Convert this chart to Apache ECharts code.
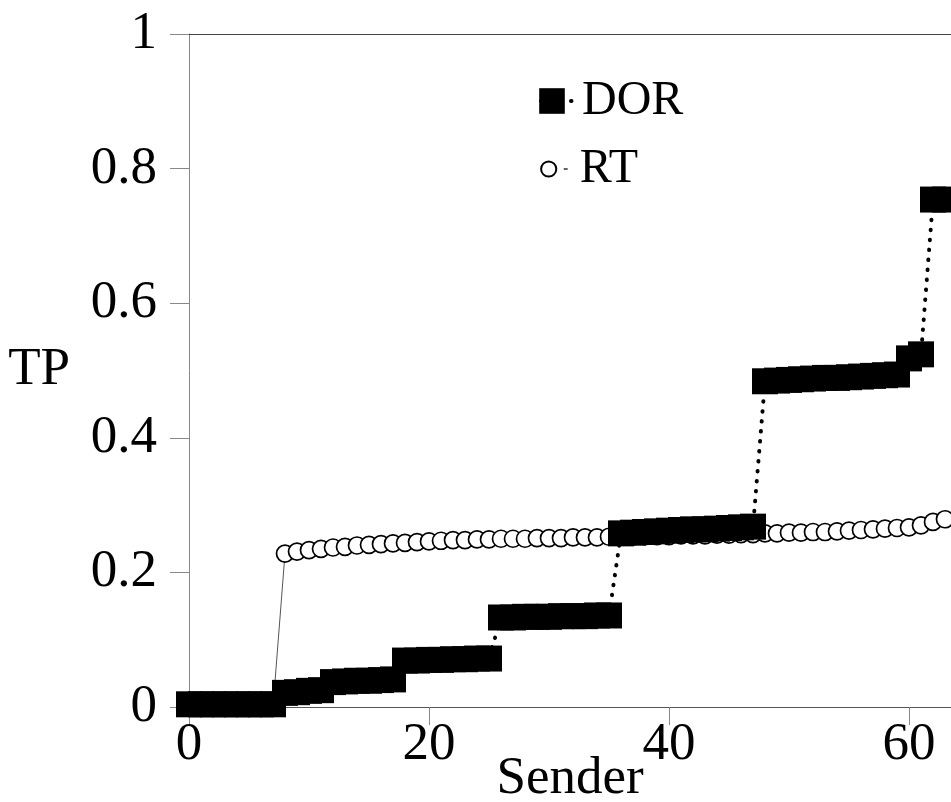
<!DOCTYPE html>
<html>
<head>
<meta charset="utf-8">
<title>TP by sender</title>
<script src="https://cdn.jsdelivr.net/npm/echarts@6/dist/echarts.min.js"></script>
<style>
html,body{margin:0;padding:0;background:#fff;}
#tpChartDiv{width:951px;height:802px;}
</style>
</head>
<body>
<div id="tpChartDiv"></div>
<script>
var senders = [0,1,2,3,4,5,6,7,8,9,10,11,12,13,14,15,16,17,18,19,20,21,22,23,24,25,26,27,28,29,30,31,
	32,33,34,35,36,37,38,39,40,41,42,43,44,45,46,47,48,49,50,51,52,53,54,55,56,57,58,59,60,61,62,63];
var dorTP = [0.004,0.004,0.004,0.004,0.004,0.004,0.004,0.004,
	0.021,0.022,0.024,0.025,
	0.037,0.038,0.039,0.039,0.040,0.041,
	0.069,0.069,0.070,0.070,0.071,0.071,0.072,0.072,
	0.133,0.133,0.134,0.134,0.134,0.135,0.135,0.135,0.136,0.136,
	0.258,0.259,0.260,0.261,0.262,0.263,0.264,0.264,0.265,0.266,0.267,0.268,
	0.484,0.485,0.486,0.487,0.488,0.489,0.489,0.490,0.491,0.492,0.493,0.494,
	0.518,0.524,
	0.754,0.754];
var rtTP = [0,0,0,0,0,0,0,0,
	0.228,0.231,0.233,0.235,0.237,0.238,0.240,0.241,0.242,0.243,0.244,0.245,0.246,0.247,0.248,0.248,
	0.249,0.249,0.250,0.250,0.250,0.251,0.251,0.251,0.252,0.252,0.252,0.253,0.253,0.253,0.254,0.254,
	0.254,0.255,0.255,0.255,0.256,0.256,0.257,0.257,0.258,0.258,0.259,0.259,0.260,0.260,0.261,0.262,
	0.263,0.264,0.265,0.266,0.267,0.270,0.275,0.279];
var xTicks = [0,20,40,60];
var seriesNames = ['DOR','RT'];

var fontName = '"Liberation Serif","DejaVu Serif",serif';

function toPairs(xs, ys){
	var out = [];
	for(var i=0;i<xs.length;i++){
		out.push([xs[i], ys[i]]);
	}
	return out;
}

var tpChart = echarts.init(document.getElementById("tpChartDiv"));
setTPChartOption(tpChart);

function setTPChartOption(chart){
	var option = {
	animation:false,
	backgroundColor:'#fff',
	textStyle:{fontFamily:fontName,color:'#000'},
	grid:{
		left:189,
		right:0,
		top:34,
		bottom:95,
		containLabel:false,
		outerBoundsMode:'none'
	},
	legend:[
		{
			//only one dot of the dotted sample shows, right of the square
			data:[{name:seriesNames[0],lineStyle:{color:'#000',width:4,type:[0.5,9.5],cap:'round',dashOffset:-9}}],
			left:530,
			top:77,
			padding:0,
			itemWidth:40,
			itemHeight:32,
			selectedMode:false,
			textStyle:{fontFamily:fontName,fontSize:48,color:'#000',padding:[0,0,0,5]}
		},
		{
			//line sample only on the right side of the circle
			data:[{name:seriesNames[1],lineStyle:{color:'#333',width:1.4,type:[0,25,14,100]}}],
			left:529,
			top:145,
			padding:0,
			itemWidth:38,
			itemHeight:19,
			selectedMode:false,
			textStyle:{fontFamily:fontName,fontSize:48,color:'#000',padding:[0,0,0,7]}
		}
	],
	xAxis:[
		{
			type:'value',
			position:'bottom',
			min:0,
			max:63.5,
			interval:20,
			name:'Sender',
			nameLocation:'middle',
			nameGap:46,
			nameMoveOverlap:false,
			nameTextStyle:{fontFamily:fontName,fontSize:53,color:'#000'},
			axisLine:{show:true,lineStyle:{color:'#555',width:1}},
			axisTick:{show:true,inside:false,length:18,lineStyle:{color:'#888',width:1}},
			axisLabel:{
				margin:12,
				fontFamily:fontName,
				fontSize:53,
				color:'#000',
				formatter:function(v){
					return xTicks.indexOf(v) >= 0 ? String(v) : '';
				}
			},
			splitLine:{show:false}
		},
		{
			type:'value',
			position:'top',
			min:0,
			max:63.5,
			axisLine:{show:true,lineStyle:{color:'#444',width:1}},
			axisTick:{show:false},
			axisLabel:{show:false},
			splitLine:{show:false}
		}
	],
	yAxis:{
		type:'value',
		min:0,
		max:1,
		interval:0.2,
		name:'TP',
		nameLocation:'middle',
		nameRotate:0,
		nameGap:119,
		nameMoveOverlap:false,
		nameTextStyle:{fontFamily:fontName,fontSize:53,color:'#000'},
		axisLine:{show:true,lineStyle:{color:'#888',width:1}},
		axisTick:{show:true,inside:false,length:19,lineStyle:{color:'#888',width:1}},
		axisLabel:{
			margin:32,
			fontFamily:fontName,
			fontSize:53,
			color:'#000'
		},
		splitLine:{show:false}
	},
	series:[
		{
			name:seriesNames[1],
			type:'line',
			z:2,
			data:toPairs(senders, rtTP),
			symbol:'circle',
			symbolSize:17,
			itemStyle:{color:'#fff',borderColor:'#000',borderWidth:1.7},
			lineStyle:{color:'#555',width:1},
			emphasis:{disabled:true}
		},
		{
			name:seriesNames[0],
			type:'line',
			z:3,
			data:toPairs(senders, dorTP),
			symbol:'rect',
			symbolSize:26,
			itemStyle:{color:'#000'},
			lineStyle:{color:'#000',width:4,type:[0.5,9.5],cap:'round',dashOffset:1},
			emphasis:{disabled:true}
		}
	]
	};
	chart.setOption(option);
}
</script>
</body>
</html>
